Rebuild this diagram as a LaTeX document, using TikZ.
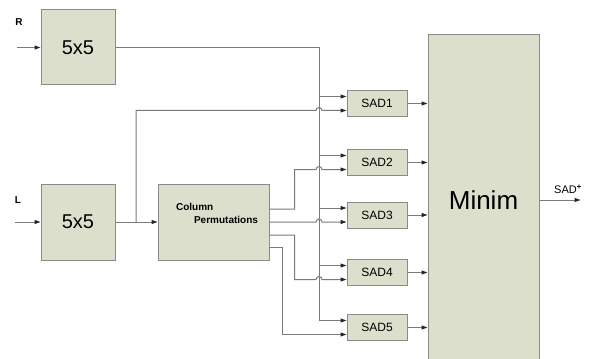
\documentclass[tikz,border=0pt]{standalone}
\usepackage{fontspec}
\setmainfont{Liberation Sans}
\usetikzlibrary{arrows.meta,calc}
\definecolor{blockfill}{HTML}{DCDFCB}
\definecolor{blockline}{HTML}{8A8A8A}
\definecolor{wire}{HTML}{7A7A7A}
\tikzset{
  blk/.style={draw=blockline,fill=blockfill,line width=1pt,inner sep=0pt},
  sad/.style={blk,minimum width=60pt,minimum height=26pt,font=\fontsize{12}{14}\selectfont},
  wr/.style={draw=wire,line width=1pt},
  arr/.style={wr,-{Triangle[length=6pt,width=4pt,color=black!85]}},
  hop/.style={insert path={arc[start angle=180,end angle=0,radius=3pt]}},
  lbl/.style={font=\bfseries\fontsize{10}{12}\selectfont}
}
\begin{document}
\begin{tikzpicture}[x=1pt,y=-1pt]
  \clip (0,0) rectangle (593,358);
  \node[blk,minimum width=74pt,minimum height=75pt,font=\fontsize{20}{22}\selectfont] (r55) at (78,47.5) {5x5};
  \node[blk,minimum width=74pt,minimum height=76pt,font=\fontsize{20}{22}\selectfont] (l55) at (78,222) {5x5};
  \node[blk,minimum width=111pt,minimum height=76pt] (perm) at (213.5,222) {};
  \node[font=\bfseries\fontsize{10}{13}\selectfont,align=left] (permtxt) at (217,213.5) {Column\\\hspace*{18pt}Permutations};
  \node[blk,minimum width=111pt,minimum height=330pt,font=\fontsize{26}{30}\selectfont] (minim) at (483.5,200) {Minim};
  \foreach \i/\y in {1/103.5,2/162.5,3/215,4/272.5,5/327.5}{
    \node[sad] (sad\i) at (377,\y) {SAD\i};
    \coordinate (up\i) at ([yshift=7pt]sad\i.west);
    \coordinate (lo\i) at ([yshift=-7pt]sad\i.west);
  }
  \node[lbl] (rlab) at (19,22) {R};
  \node[lbl] (llab) at (18,200) {L};
  \coordinate (rin) at (17,47.5);
  \coordinate (lin) at (15,222);
  \coordinate (bus) at (319,0);
  \coordinate (lb) at (136,222);
  \coordinate (po1) at ([yshift=13pt]perm.east);
  \coordinate (po3) at ([yshift=-13pt]perm.east);
  \coordinate (po4) at ([yshift=-25pt]perm.east);

  \draw[arr] (rin) -- (r55.west);
  \draw[arr] (lin) -- (l55.west);
  \draw[arr] (l55.east) -- (perm.west);
  \draw[arr] (r55.east) -| (bus |- up5) -- (up5);
  \foreach \i in {1,...,4}
    \draw[arr] (bus |- up\i) -- (up\i);
  \draw[arr] (lb) |- ($(bus |- lo1)+(-3,0)$) [hop] -- (lo1);
  \draw[arr] (po1) -- ++(25,0) |- ($(bus |- lo2)+(-3,0)$) [hop] -- (lo2);
  \draw[arr] (perm.east) -- ($(bus |- lo3)+(-3,0)$) [hop] -- (lo3);
  \draw[arr] (po3) -- ++(25,0) |- ($(bus |- lo4)+(-3,0)$) [hop] -- (lo4);
  \draw[arr] (po4) -- ++(13,0) |- (lo5);
  \foreach \i in {1,...,5}
    \draw[arr] (sad\i.east) -- (sad\i.east -| minim.west);
  \draw[arr] (minim.east) -- ++(41,0) coordinate (out);
  \node[font=\fontsize{11}{13}\selectfont] (outlab) at (568,189) {SAD\textsuperscript{\textbf{+}}};
\end{tikzpicture}
\end{document}
